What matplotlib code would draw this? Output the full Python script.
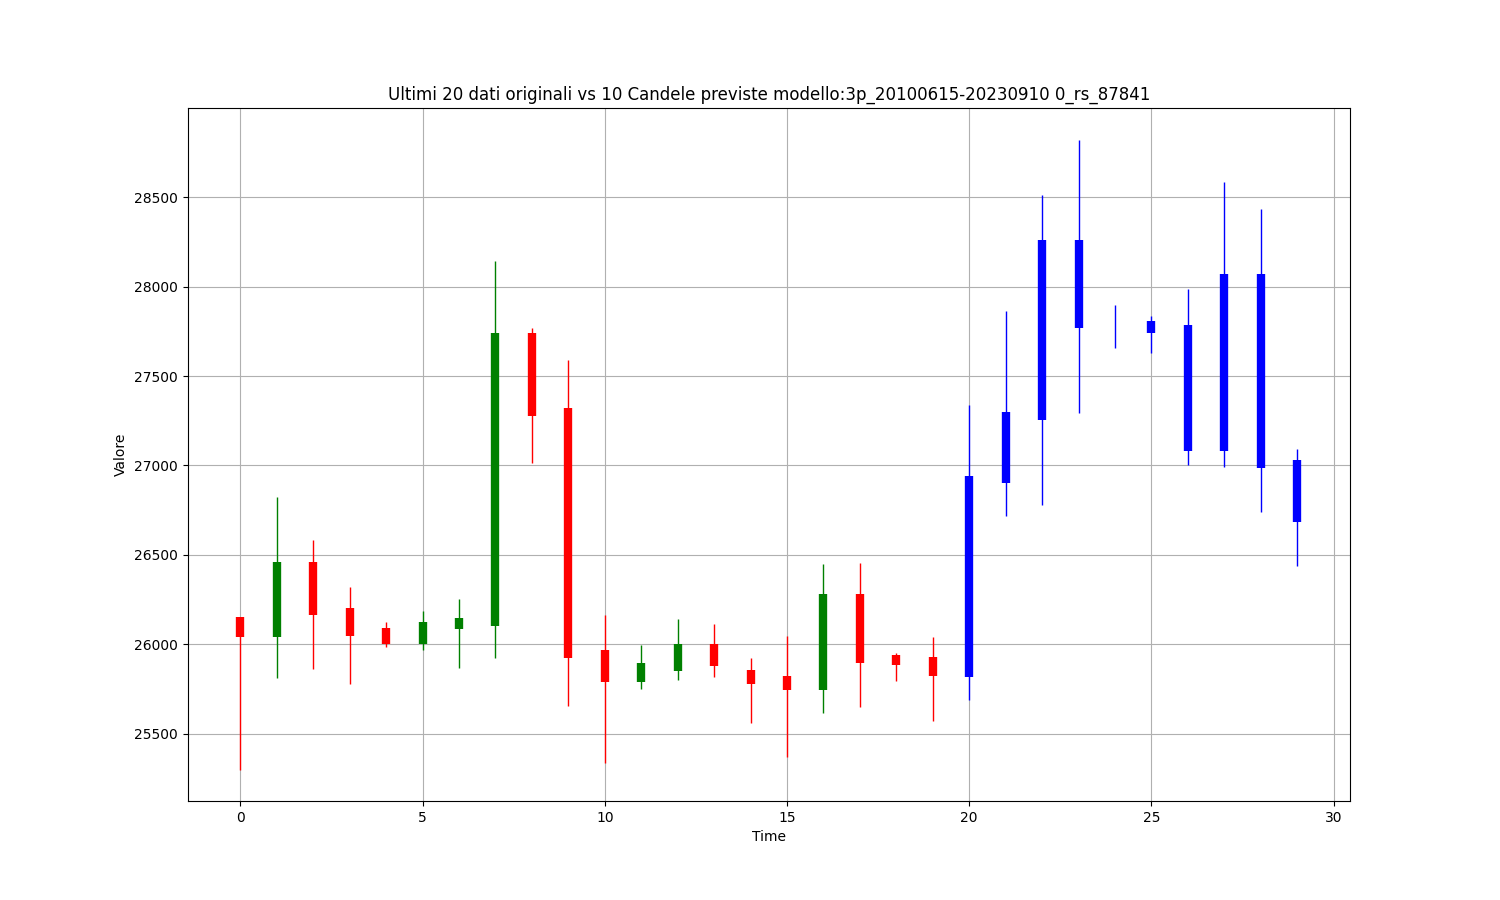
import matplotlib
matplotlib.use("Agg")
import matplotlib.pyplot as plt
import numpy as np

# Last 20 original candles (open, close, high, low)
orig_open = [26150, 26040, 26459, 26204, 26089, 26001, 26085, 26099, 27738, 27321,
             25966, 25789, 25848, 25999, 25854, 25820, 25742, 26279, 25938, 25927]
orig_close = [26040, 26459, 26163, 26046, 26001, 26126, 26144, 27738, 27278, 25923,
              25789, 25893, 25999, 25876, 25776, 25742, 26279, 25893, 25882, 25820]
orig_high = [26150, 26821, 26580, 26318, 26126, 26183, 26255, 28141, 27767, 27589,
             26161, 25994, 26139, 26111, 25921, 26046, 26446, 26452, 25949, 26038]
orig_low = [25299, 25811, 25862, 25778, 25983, 25968, 25866, 25923, 27016, 25654,
            25334, 25748, 25798, 25815, 25558, 25368, 25614, 25647, 25793, 25569]

# 10 predicted candles
pred_open = [25818, 26899, 27256, 28260, 27780, 27809, 27785, 28072, 28072, 27030]
pred_close = [26942, 27299, 28260, 27766, 27780, 27740, 27083, 27083, 26987, 26683]
pred_high = [27338, 27866, 28515, 28823, 27899, 27836, 27988, 28588, 28436, 27089]
pred_low = [25685, 26719, 26781, 27291, 27659, 27631, 27002, 26991, 26741, 26439]


def plot_candles():
    fig, ax = plt.subplots(figsize=(15, 9), dpi=100)

    x_orig = np.arange(len(orig_open))
    colors = ["green" if c >= o else "red" for o, c in zip(orig_open, orig_close)]
    ax.vlines(x_orig, orig_low, orig_high, colors=colors, linewidth=1)
    ax.vlines(x_orig, orig_open, orig_close, colors=colors, linewidth=6)

    x_pred = np.arange(len(orig_open), len(orig_open) + len(pred_open))
    ax.vlines(x_pred, pred_low, pred_high, colors="blue", linewidth=1)
    ax.vlines(x_pred, pred_open, pred_close, colors="blue", linewidth=6)

    ax.set_title("Ultimi 20 dati originali vs 10 Candele previste modello:3p_20100615-20230910 0_rs_87841")
    ax.set_xlabel("Time")
    ax.set_ylabel("Valore")
    ax.grid(True)
    fig.savefig("out.png")


if __name__ == "__main__":
    plot_candles()
